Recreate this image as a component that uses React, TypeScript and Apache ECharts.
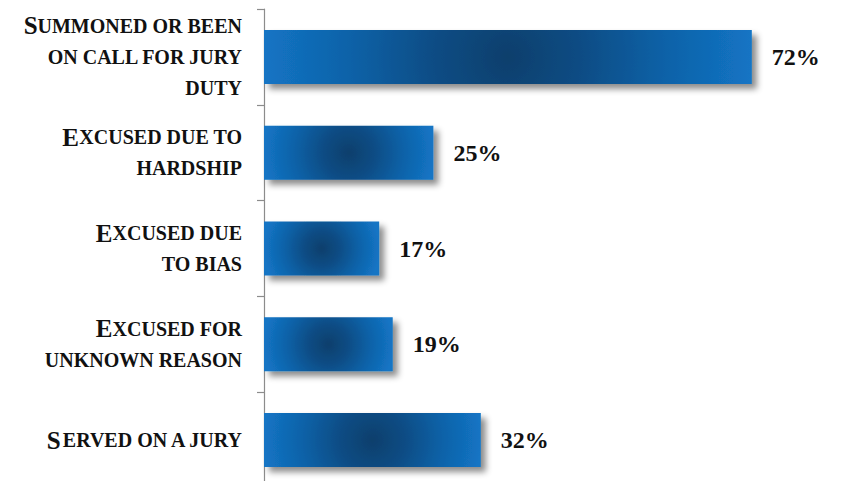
import React, { useEffect, useRef } from "react";
import * as echarts from "echarts";

const categories: string[] = [
  "Summoned or been\non call for jury\nduty",
  "Excused due to\nhardship",
  "Excused due\nto bias",
  "Excused for\nunknown reason",
  "Served on a jury",
];
const values: number[] = [72, 25, 17, 19, 32];

function toSmallCaps(text: string): string {
  return text
    .split("\n")
    .map((line) => {
      let out = "";
      let run = "";
      let runBig: boolean | null = null;
      const flush = () => {
        if (run.length) out += `{${runBig ? "c" : "s"}|${run}}`;
        run = "";
      };
      for (const ch of line) {
        const big = ch !== ch.toLowerCase();
        if (runBig !== null && big !== runBig) flush();
        runBig = big;
        run += ch.toUpperCase();
      }
      flush();
      return out;
    })
    .join("\n");
}

const stops = [
  { offset: 0, color: "#073f6c" },
  { offset: 0.3, color: "#0a4c84" },
  { offset: 0.65, color: "#0e62a8" },
  { offset: 1, color: "#1374c4" },
];

export default function App() {
  const ref = useRef<HTMLDivElement>(null);
  useEffect(() => {
    if (!ref.current) return;
    const chart = echarts.init(ref.current, null, { renderer: "svg" });
    const serif = "Liberation Serif";
    chart.setOption({
      animation: false,
      backgroundColor: "#ffffff",
      textStyle: { fontFamily: serif },
      grid: {
        left: 264,
        top: 9,
        width: 542,
        height: 479,
        containLabel: false,
        outerBoundsMode: "none",
      },
      xAxis: {
        type: "value",
        min: 0,
        max: 80,
        show: false,
        splitLine: { show: false },
      },
      yAxis: {
        type: "category",
        inverse: true,
        data: categories,
        axisLine: { show: true, lineStyle: { color: "#8c8c8c", width: 1.2 } },
        axisTick: { show: true, length: 7, lineStyle: { color: "#8c8c8c", width: 1.2 } },
        axisLabel: {
          margin: 22,
          align: "right",
          fontFamily: serif,
          fontWeight: "bold",
          formatter: (v: string) => toSmallCaps(v),
          rich: {
            c: {
              fontFamily: serif,
              fontWeight: "bold",
              fontSize: 25,
              lineHeight: 31,
              color: "#111111",
            },
            s: {
              fontFamily: serif,
              fontWeight: "bold",
              fontSize: 20,
              lineHeight: 31,
              color: "#111111",
            },
          },
        },
      },
      series: [
        {
          type: "bar",
          data: values,
          barWidth: 54,
          itemStyle: {
            color: "#0d5c9e",
            shadowColor: "rgba(0,0,0,0.45)",
            shadowBlur: 6,
            shadowOffsetX: 5,
            shadowOffsetY: 5,
          },
          label: {
            show: true,
            position: "right",
            distance: 20,
            formatter: "{c}%",
            fontFamily: serif,
            fontWeight: "bold",
            fontSize: 24,
            color: "#111111",
          },
        },
      ],
    });
    // circular gradient per bar, centred on the bar via the chart's own scales
    const data = values.map((v, i) => {
      const start = chart.convertToPixel({ gridIndex: 0 }, [0, i]) as number[];
      const end = chart.convertToPixel({ gridIndex: 0 }, [v, i]) as number[];
      const cx = (start[0] + end[0]) / 2;
      const cy = start[1];
      const r = Math.abs(end[0] - start[0]) / 2;
      return {
        value: v,
        itemStyle: {
          color: { type: "radial", x: cx, y: cy, r, global: true, colorStops: stops },
        },
      };
    });
    chart.setOption({ series: [{ data }] });
    return () => chart.dispose();
  }, []);
  return <div ref={ref} style={{ width: 845, height: 481, position: "absolute", left: 0, top: 0 }} />;
}
